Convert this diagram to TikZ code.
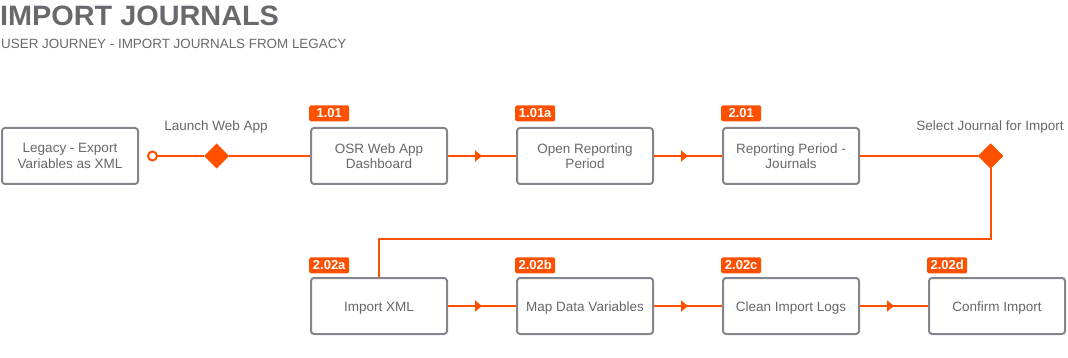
\documentclass[tikz,border=0pt]{standalone}
\usepackage{fontspec}
\setmainfont{Liberation Sans}
\usetikzlibrary{shapes.geometric,arrows.meta,decorations.markings}
\definecolor{og}{HTML}{FF5000}
\definecolor{bordergrey}{HTML}{85858F}
\definecolor{txtgrey}{HTML}{66666E}
\definecolor{titlegrey}{HTML}{68686F}
\newcommand{\lowered}[1]{\raisebox{-2.5pt}[\height][\depth]{#1}}
\tikzset{
  stepbox/.style={draw=bordergrey, line width=2pt, rounded corners=3pt, fill=white,
    minimum width=136pt, minimum height=56pt, inner sep=2pt, align=center,
    text=txtgrey, font=\fontsize{13.5}{15.5}\selectfont},
  badge/.style={fill=og, rounded corners=1.5pt, text=white, font=\bfseries\fontsize{13}{14}\selectfont,
    minimum width=40pt, minimum height=16pt, inner sep=0pt, anchor=south west},
  flow/.style={draw=og, line width=2pt},
  midarrow/.style={postaction={decorate}, decoration={markings,
    mark=at position 0.5 with {\arrow[og]{Triangle[length=7pt,width=11pt]}}}},
  gate/.style={diamond, aspect=1, fill=og, minimum width=25pt, minimum height=25pt, inner sep=0pt, outer sep=0pt},
  steplabel/.style={text=txtgrey, font=\fontsize{13.5}{16}\selectfont, inner sep=0pt}
}
\begin{document}
\begin{tikzpicture}[x=1pt,y=-1pt]
\useasboundingbox (0,0) rectangle (1068,358);
% titles
\node[anchor=base west, inner sep=0pt, text=titlegrey, font=\bfseries\fontsize{28}{30}\selectfont] (title) at (0,26) {\scalebox{1.03}[1]{IMPORT JOURNALS}};
\node[anchor=base west, inner sep=0pt, text=titlegrey, font=\fontsize{13.4}{15}\selectfont] (subtitle) at (1,49) {USER JOURNEY - IMPORT JOURNALS FROM LEGACY};
% row 1
\node[stepbox] (b1) at (70,156) {Legacy - Export\\Variables as XML};
\node[stepbox] (b2) at (379,156) {OSR Web App\\Dashboard};
\node[stepbox] (b3) at (585,156) {Open Reporting\\Period};
\node[stepbox] (b4) at (791,156) {Reporting Period -\\Journals};
% row 2
\node[stepbox] (b5) at (379,306) {\lowered{Import XML}};
\node[stepbox] (b6) at (585,306) {\lowered{Map Data Variables}};
\node[stepbox] (b7) at (791,306) {\lowered{Clean Import Logs}};
\node[stepbox] (b8) at (997,306) {\lowered{Confirm Import}};
% badges
\node[badge] (t2) at (309,121.5) {1.01};
\node[badge] (t3) at (515,121.5) {1.01a};
\node[badge] (t4) at (721,121.5) {2.01};
\node[badge] (t5) at (309,273.5) {2.02a};
\node[badge] (t6) at (515,273.5) {2.02b};
\node[badge] (t7) at (721,273.5) {2.02c};
\node[badge] (t8) at (927,273.5) {2.02d};
% gates
\node[gate] (d1) at (216.5,156) {};
\node[gate] (d2) at (990.5,156) {};
\node[steplabel] (l1) at (216,127) {Launch Web App};
\node[steplabel] (l2) at (990,127) {Select Journal for Import};
\coordinate (k1) at (990.5,239);
\coordinate (k2) at (379,239);
% connectors
\draw[flow] (d1) -- (b2);
\draw[flow, midarrow] (b2) -- (b3);
\draw[flow, midarrow] (b3) -- (b4);
\draw[flow] (b4) -- (d2);
\draw[flow] (d2.center) -- (k1) -- (k2) -- (b5);
\node[gate] at (d2) {};
\draw[flow, midarrow] (b5) -- (b6);
\draw[flow, midarrow] (b6) -- (b7);
\draw[flow, midarrow] (b7) -- (b8);
\node[circle, draw=og, line width=2pt, fill=white, minimum size=9pt, inner sep=0pt] (c0) at (152.5,156) {};
\draw[flow] (c0) -- (d1);
\end{tikzpicture}
\end{document}
